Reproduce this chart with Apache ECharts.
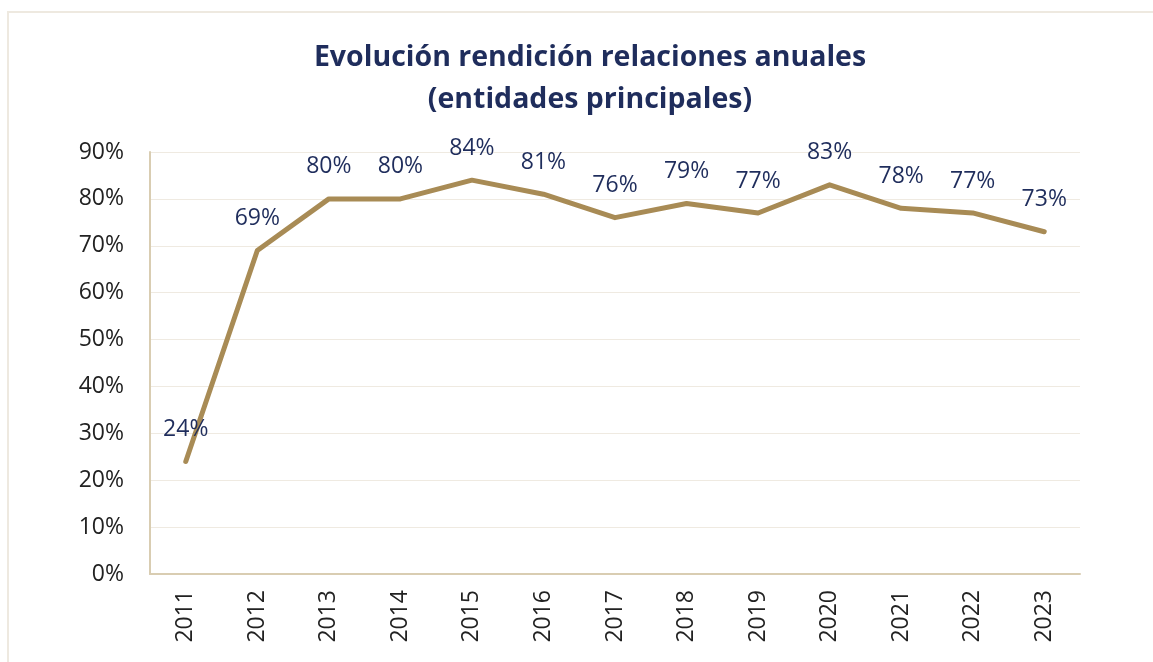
<!DOCTYPE html>
<html>
<head>
<meta charset="utf-8">
<script src="https://cdn.jsdelivr.net/npm/echarts@6/dist/echarts.min.js"></script>
<style>
  html, body { margin: 0; padding: 0; background: #fff; overflow: hidden; }
  #frame {
    position: absolute; left: 7px; top: 11px; width: 1300px; height: 800px;
    border: 2px solid #EEE9E0; box-sizing: border-box;
  }
  #chart { position: absolute; left: 0; top: 0; width: 1153px; height: 662px; }
</style>
</head>
<body>
<div id="frame"></div>
<div id="chart"></div>
<script>
const years = ['2011', '2012', '2013', '2014', '2015', '2016', '2017', '2018', '2019', '2020', '2021', '2022', '2023']
const rendicion = [24, 69, 80, 80, 84, 81, 76, 79, 77, 83, 78, 77, 73]

const navy = '#1F2D5C'
const lineColor = '#A88B55'
const chart = echarts.init(document.getElementById('chart'))

chart.setOption({
  animation: false,
  title: {
    text: 'Evolución rendición relaciones anuales\n(entidades principales)',
    left: 585,
    textAlign: 'center',
    top: 32,
    textStyle: {
      fontFamily: 'Open Sans',
      fontWeight: 'bold',
      fontSize: 28.5,
      lineHeight: 42,
      color: navy
    }
  },
  grid: {
    left: 150,
    right: 73,
    top: 152,
    bottom: 88,
    containLabel: false
  },
  xAxis: {
    type: 'category',
    data: years,
    boundaryGap: true,
    axisLine: { lineStyle: { color: '#D9CDB2', width: 2 } },
    axisTick: { show: false },
    axisLabel: {
      rotate: 90,
      margin: 16,
      fontFamily: 'Open Sans',
      fontSize: 23,
      color: '#222'
    }
  },
  yAxis: {
    type: 'value',
    min: 0,
    max: 90,
    interval: 10,
    axisLine: { show: true, lineStyle: { color: '#D9CDB2', width: 2 } },
    axisTick: { show: false },
    splitLine: { lineStyle: { color: '#EFEAE1', width: 1 } },
    axisLabel: {
      formatter: '{value}%',
      margin: 26,
      fontFamily: 'Open Sans',
      fontSize: 23,
      color: '#222'
    }
  },
  series: [
    {
      type: 'line',
      data: rendicion,
      symbol: 'circle',
      symbolSize: 1,
      showSymbol: true,
      itemStyle: { color: lineColor },
      lineStyle: { color: lineColor, width: 5, cap: 'round', join: 'round' },
      label: {
        show: true,
        position: 'top',
        distance: 20,
        formatter: '{c}%',
        fontFamily: 'Open Sans',
        fontSize: 23,
        color: navy
      },
      labelLayout: { hideOverlap: false }
    }
  ]
})
</script>
</body>
</html>
